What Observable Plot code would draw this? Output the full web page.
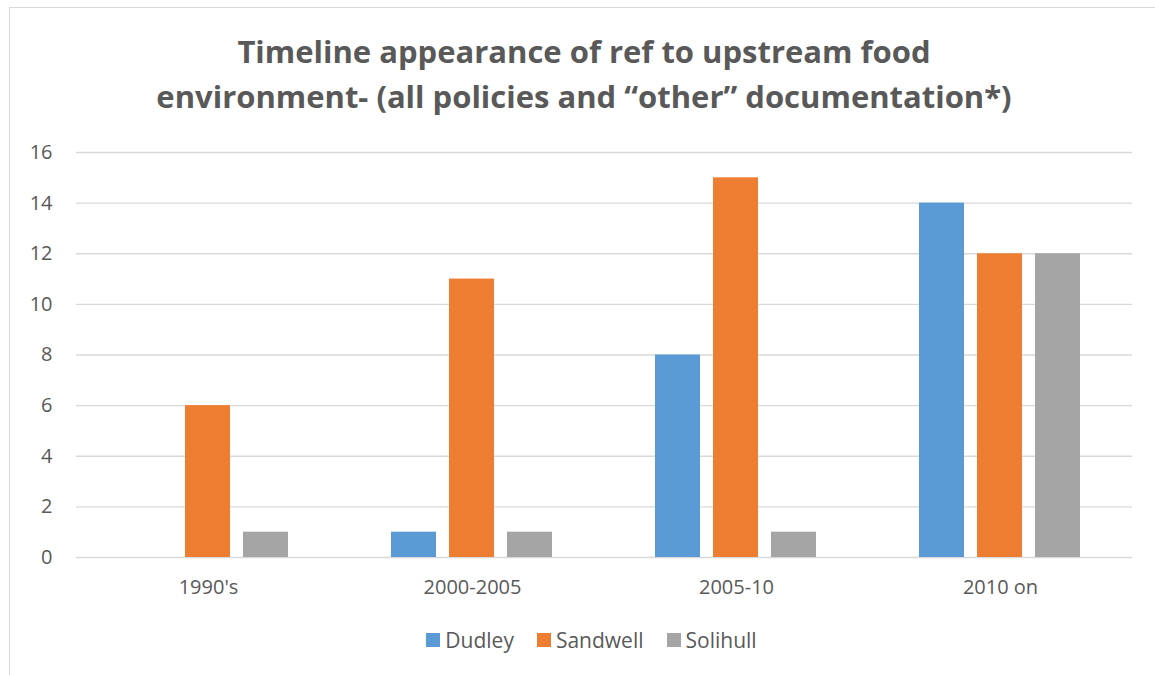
<!DOCTYPE html>
<html>
<head>
<meta charset="utf-8">
<script src="https://cdn.jsdelivr.net/npm/d3@7"></script>
<script src="https://cdn.jsdelivr.net/npm/@observablehq/plot@0.6"></script>
<style>
  html, body { margin: 0; padding: 0; background: #fff; }
  #frame { position: relative; width: 1155px; height: 675px; overflow: hidden; font-family: "Open Sans", sans-serif; color: #595959; }
  #border { position: absolute; left: 9px; top: 7px; width: 1200px; height: 700px; border-left: 1.5px solid #d9d9d9; border-top: 1.5px solid #d9d9d9; }
  #title { position: absolute; left: 9px; width: 1150px; top: 29px; text-align: center; font-weight: 700; font-size: 31px; line-height: 45px; color: #595959; }
  #plot { position: absolute; left: 0; top: 120px; }
  #legend { position: absolute; top: 627px; left: 14px; width: 1155px; display: flex; justify-content: center; gap: 23px; font-size: 21px; line-height: 26px; }
  .item { display: flex; align-items: center; gap: 5px; }
  .sw { width: 14px; height: 14px; display: inline-block; }
</style>
</head>
<body>
<div id="frame">
  <div id="border"></div>
  <div id="title">Timeline appearance of ref to upstream food<br>environment- (all policies and “other” documentation*)</div>
  <div id="plot"></div>
  <div id="legend"></div>
</div>
<script>
const categories = ["1990's", "2000-2005", "2005-10", "2010 on"];
const seriesNames = ["Dudley", "Sandwell", "Solihull"];
const dudley = [0, 1, 8, 14];
const sandwell = [6, 11, 15, 12];
const solihull = [1, 1, 1, 12];
const yTicks = [0, 2, 4, 6, 8, 10, 12, 14, 16];
const colors = ["#5B9BD5", "#ED7D31", "#A5A5A5"];

const seriesValues = [dudley, sandwell, solihull];
const rows = [];
categories.forEach((c, i) => {
  seriesNames.forEach((s, j) => rows.push({cat: c, series: s, value: seriesValues[j][i]}));
});

const chart = Plot.plot({
  width: 1155,
  height: 500,
  marginLeft: 74,
  marginRight: 22,
  marginTop: 32,
  marginBottom: 63,
  style: {fontFamily: "Open Sans, sans-serif", color: "#595959", background: "transparent"},
  fx: {domain: categories, padding: 0, label: null},
  x: {domain: seriesNames, paddingInner: 0.22, paddingOuter: 0.854, axis: null},
  y: {domain: [0, 16], label: null},
  color: {domain: seriesNames, range: colors},
  marks: [
    Plot.gridY(yTicks, {stroke: "#d9d9d9", strokeOpacity: 1, strokeWidth: 1.3}),
    Plot.barY(rows, {fx: "cat", x: "series", y: "value", fill: "series"}),
    Plot.axisY(yTicks, {tickSize: 0, tickPadding: 24, fontSize: 20, fill: "#595959", label: null}),
    Plot.axisFx({anchor: "bottom", tickSize: 0, tickPadding: 22, fontSize: 20, fill: "#595959", label: null})
  ]
});
document.getElementById("plot").appendChild(chart);

const legend = document.getElementById("legend");
seriesNames.forEach((s, i) => {
  const item = document.createElement("div");
  item.className = "item";
  const sw = document.createElement("span");
  sw.className = "sw";
  sw.style.background = colors[i];
  const t = document.createElement("span");
  t.textContent = s;
  item.appendChild(sw);
  item.appendChild(t);
  legend.appendChild(item);
});
</script>
</body>
</html>
